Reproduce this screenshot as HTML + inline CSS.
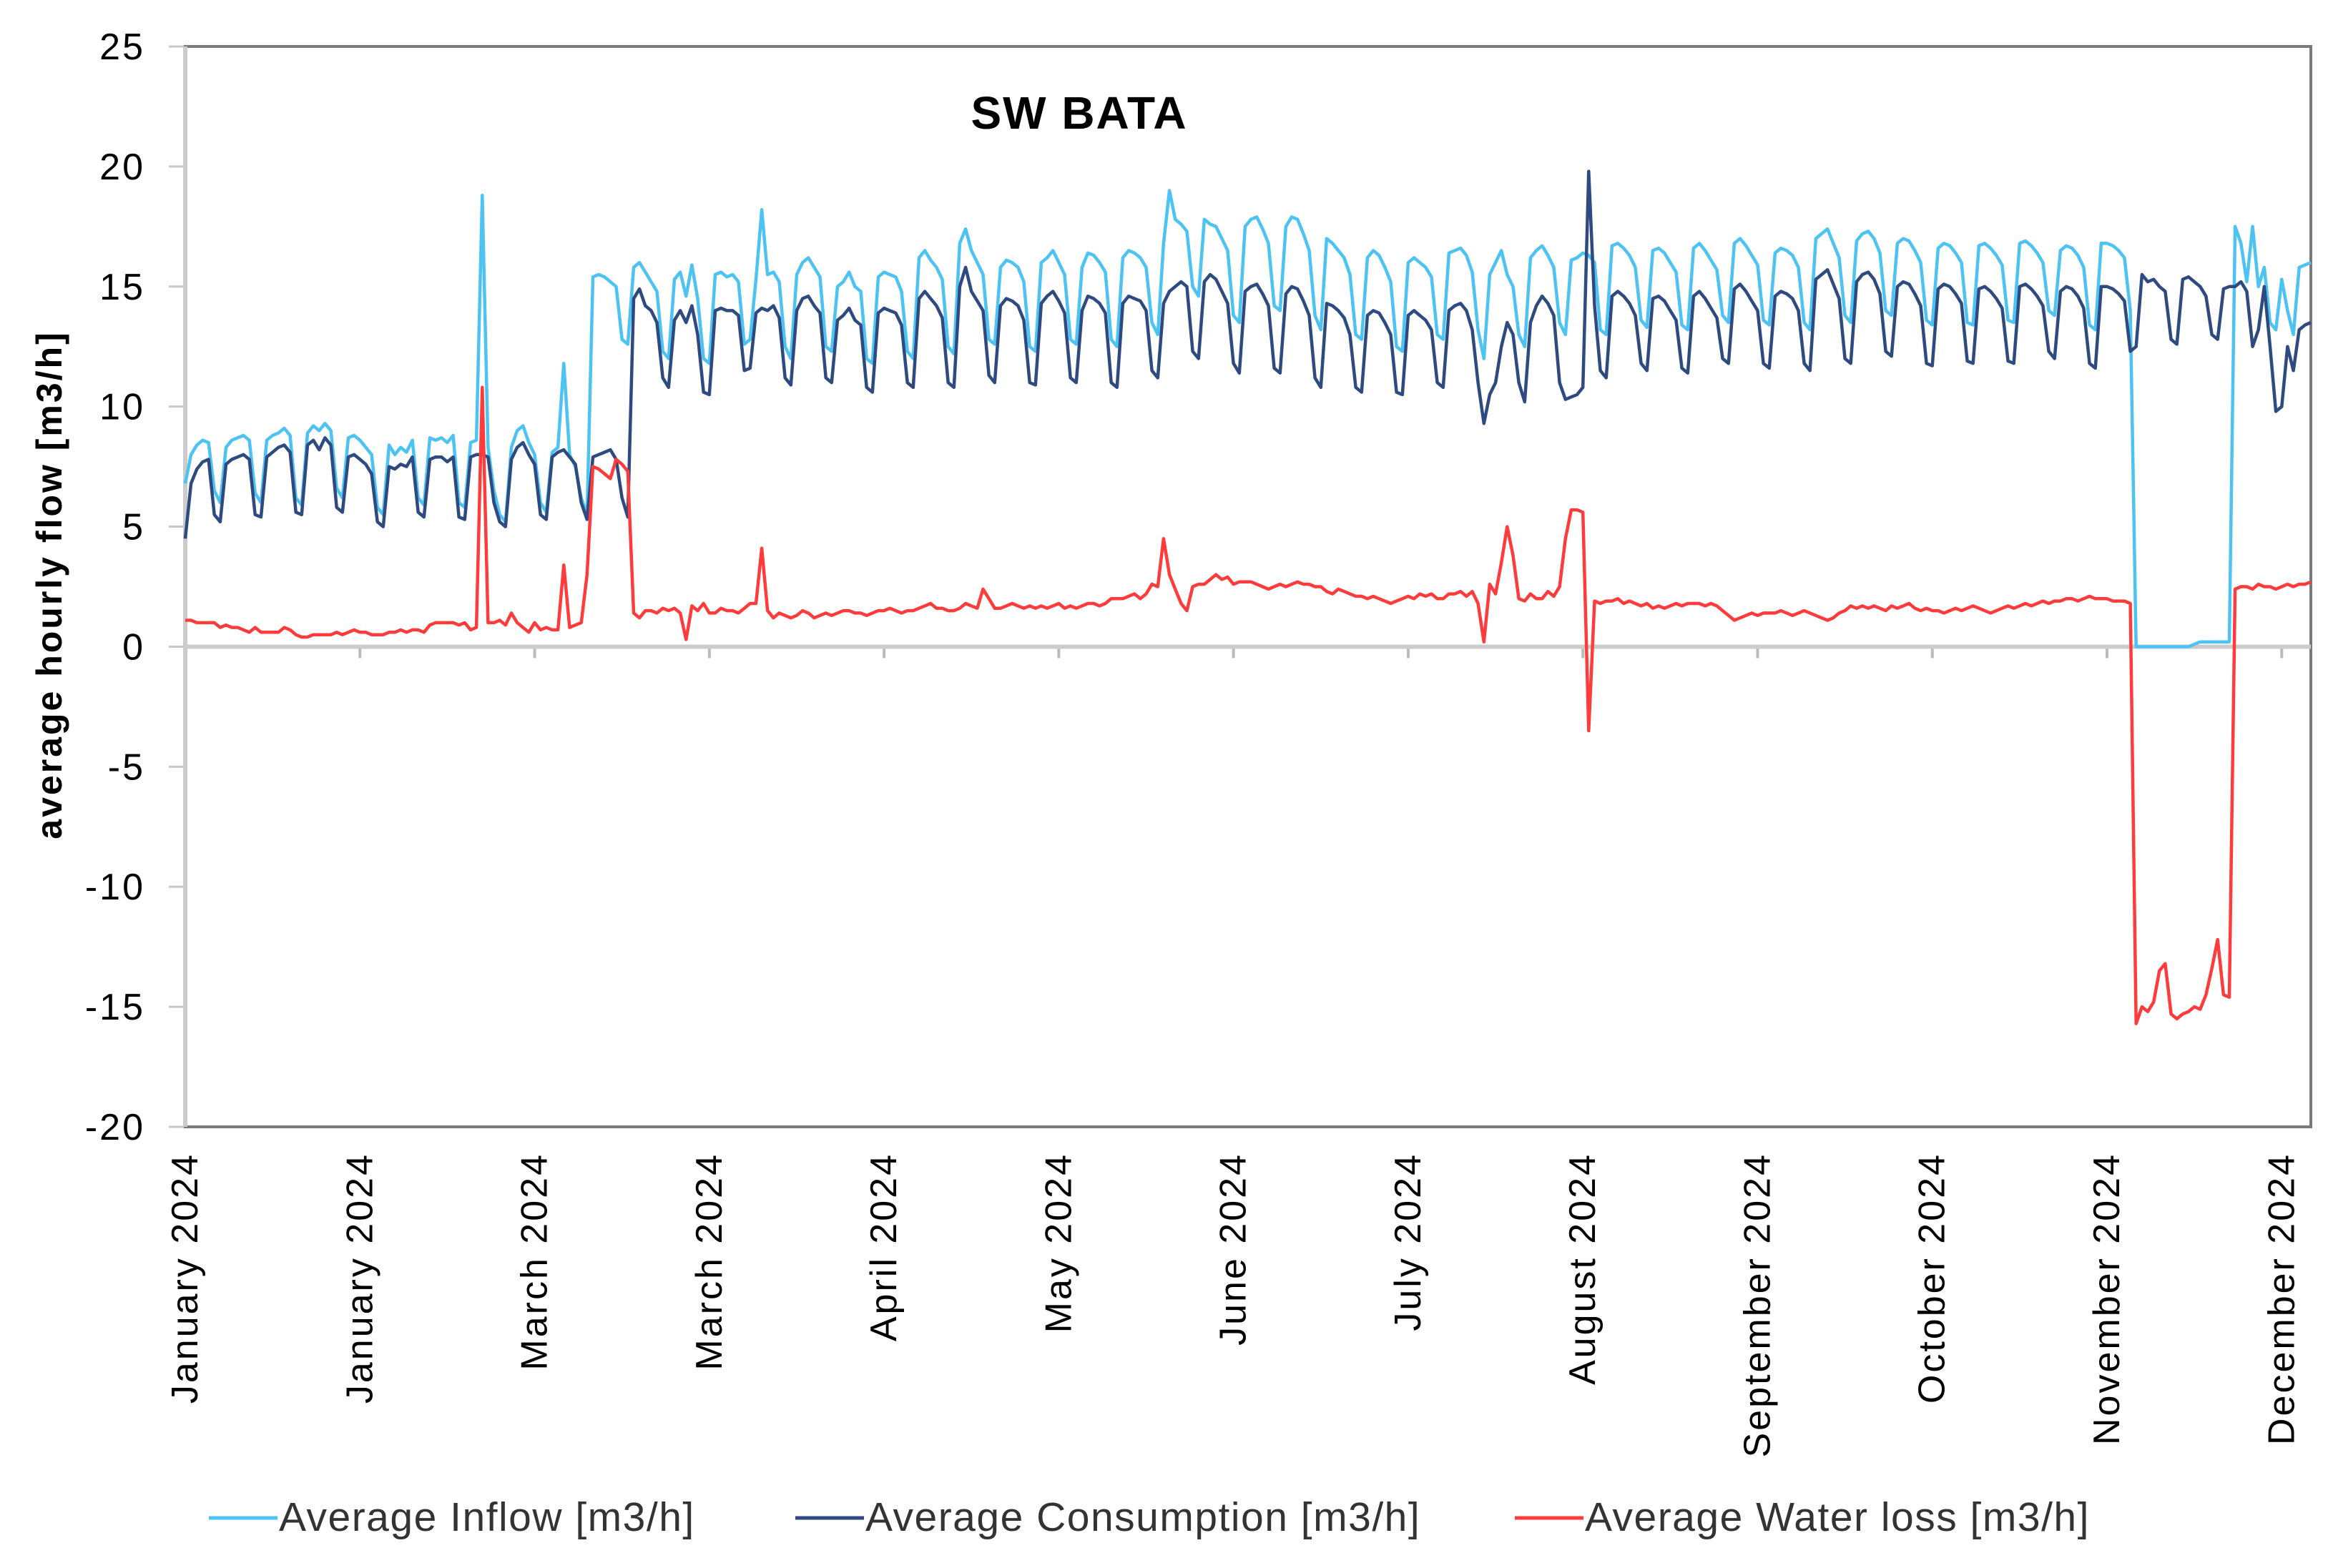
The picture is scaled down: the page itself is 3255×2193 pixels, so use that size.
<!DOCTYPE html>
<html><head><meta charset="utf-8"><style>
html,body{margin:0;padding:0;background:#fff;}
svg{display:block;font-family:"Liberation Sans",sans-serif;}
</style></head><body>
<svg id="chart" width="3255" height="2193" viewBox="0 0 3255 2193">
  <text x="1509" y="180" font-size="64" font-weight="bold" letter-spacing="2" text-anchor="middle" fill="#000">SW BATA</text>
  <text transform="translate(86,818) rotate(-90)" font-size="50" font-weight="bold" letter-spacing="3" text-anchor="middle" fill="#000">average hourly flow [m3/h]</text>
  <g id="yticks"></g>
  <g id="xticks"></g>
  <g id="series"></g>
  <g>
    <g>
      <line x1="292" y1="2123" x2="388" y2="2123" stroke="#4cc3f2" stroke-width="5"/>
      <text x="390" y="2141" font-size="57" letter-spacing="1.5" fill="#333">Average Inflow [m3/h]</text>
    </g>
    <g>
      <line x1="1112" y1="2123" x2="1208" y2="2123" stroke="#2e4a80" stroke-width="5"/>
      <text x="1210" y="2141" font-size="57" letter-spacing="1.5" fill="#333">Average Consumption [m3/h]</text>
    </g>
    <g>
      <line x1="2118" y1="2123" x2="2214" y2="2123" stroke="#ff3b3b" stroke-width="5"/>
      <text x="2216" y="2141" font-size="57" letter-spacing="1.5" fill="#333">Average Water loss [m3/h]</text>
    </g>
  </g>
</svg>
<script>
const yTicks = [25,20,15,10,5,0,-5,-10,-15,-20];
const xTickLabels = ["January 2024","January 2024","March 2024","March 2024","April 2024","May 2024","June 2024","July 2024","August 2024","September 2024","October 2024","November 2024","December 2024"];
const xTickDays = [0,30,60,90,120,150,180,210,240,270,300,330,360];
const inflow = [
6.8,8.0,8.4,8.6,8.5,6.5,6.0, 8.3,8.6,8.7,8.8,8.6,6.4,6.0, 8.6,8.8,8.9,9.1,8.8,6.2,5.9, 8.9,9.2,9.0,9.3,9.0,6.6,6.2,
8.7,8.8,8.6,8.3,8.0,5.8,5.5, 8.4,8.0,8.3,8.1,8.6,6.2,5.9, 8.7,8.6,8.7,8.5,8.8,6.0,5.8, 8.5,8.6,18.8,8.3,6.5,5.5,5.2,
8.3,9.0,9.2,8.5,8.0,6.0,5.6, 8.1,8.3,11.8,8.0,7.5,6.2,5.5, 15.4,15.5,15.4,15.2,15.0,12.8,12.6, 15.8,16.0,15.6,15.2,14.8,12.3,12.0,
15.3,15.6,14.6,15.9,14.5,12.0,11.8, 15.5,15.6,15.4,15.5,15.2,12.6,12.8, 15.3,18.2,15.5,15.6,15.2,12.5,12.0, 15.5,16.0,16.2,15.8,15.4,12.5,12.3,
15.0,15.2,15.6,15.0,14.8,12.0,11.8, 15.4,15.6,15.5,15.4,14.8,12.3,12.0, 16.2,16.5,16.1,15.8,15.3,12.5,12.2, 16.8,17.4,16.5,16.0,15.5,12.8,12.6,
15.8,16.1,16.0,15.8,15.2,12.5,12.3, 16.0,16.2,16.5,16.0,15.5,12.8,12.6, 15.8,16.4,16.3,16.0,15.6,12.8,12.5, 16.2,16.5,16.4,16.2,15.8,13.5,13.0,
16.8,19.0,17.8,17.6,17.3,15.0,14.6, 17.8,17.6,17.5,17.0,16.5,13.8,13.5, 17.5,17.8,17.9,17.4,16.8,14.2,14.0, 17.5,17.9,17.8,17.2,16.5,13.8,13.2,
17.0,16.8,16.5,16.2,15.5,13.0,12.8, 16.2,16.5,16.3,15.8,15.2,12.5,12.3, 16.0,16.2,16.0,15.8,15.4,13.0,12.8, 16.4,16.5,16.6,16.3,15.6,13.2,12.0,
15.5,16.0,16.5,15.5,15.0,13.0,12.5, 16.2,16.5,16.7,16.3,15.8,13.5,13.0, 16.1,16.2,16.4,16.3,16.0,13.2,13.0, 16.7,16.8,16.6,16.3,15.8,13.6,13.3,
16.5,16.6,16.4,16.0,15.6,13.4,13.2, 16.6,16.8,16.5,16.1,15.7,13.8,13.5, 16.8,17.0,16.7,16.3,15.9,13.6,13.4, 16.4,16.6,16.5,16.3,15.8,13.5,13.2,
17.0,17.2,17.4,16.8,16.2,13.8,13.5, 16.9,17.2,17.3,17.0,16.4,14.0,13.8, 16.8,17.0,16.9,16.5,16.0,13.6,13.4, 16.6,16.8,16.7,16.4,16.0,13.5,13.4,
16.7,16.8,16.6,16.3,15.9,13.6,13.5, 16.8,16.9,16.7,16.4,16.0,14.0,13.8, 16.5,16.7,16.6,16.3,15.8,13.4,13.2, 16.8,16.8,16.7,16.5,16.2,14.0,0,
0,0,0,0,0,0,0, 0,0,0.1,0.2,0.2,0.2,0.2, 0.2,0.2,17.5,16.8,15.2,17.5,15.0, 15.8,13.5,13.2,15.3,14.0,13.0,15.8, 15.9,16.0];
const consumption = [
4.5,6.8,7.4,7.7,7.8,5.5,5.2, 7.6,7.8,7.9,8.0,7.8,5.5,5.4, 7.9,8.1,8.3,8.4,8.1,5.6,5.5, 8.4,8.6,8.2,8.7,8.4,5.8,5.6,
7.9,8.0,7.8,7.6,7.2,5.2,5.0, 7.5,7.4,7.6,7.5,7.9,5.6,5.4, 7.8,7.9,7.9,7.7,7.9,5.4,5.3, 7.9,8.0,8.0,7.9,6.0,5.2,5.0,
7.8,8.3,8.5,8.0,7.6,5.5,5.3, 7.9,8.1,8.2,7.9,7.6,6.0,5.3, 7.9,8.0,8.1,8.2,7.8,6.2,5.4, 14.5,14.9,14.2,14.0,13.5,11.2,10.8,
13.6,14.0,13.5,14.2,13.0,10.6,10.5, 14.0,14.1,14.0,14.0,13.8,11.5,11.6, 13.9,14.1,14.0,14.2,13.7,11.2,10.9, 14.0,14.5,14.6,14.2,13.9,11.2,11.0,
13.6,13.8,14.1,13.6,13.4,10.8,10.6, 13.9,14.1,14.0,13.9,13.4,11.0,10.8, 14.5,14.8,14.5,14.2,13.7,11.0,10.8, 15.0,15.8,14.8,14.4,14.0,11.3,11.0,
14.2,14.5,14.4,14.2,13.6,11.0,10.9, 14.3,14.6,14.8,14.4,13.9,11.2,11.0, 14.0,14.6,14.5,14.3,13.9,11.0,10.8, 14.3,14.6,14.5,14.4,14.0,11.5,11.2,
14.3,14.8,15.0,15.2,15.0,12.3,12.0, 15.2,15.5,15.3,14.8,14.3,11.8,11.4, 14.8,15.0,15.1,14.7,14.2,11.6,11.4, 14.7,15.0,14.9,14.4,13.8,11.2,10.8,
14.3,14.2,14.0,13.7,13.0,10.8,10.6, 13.8,14.0,13.9,13.5,13.0,10.6,10.5, 13.8,14.0,13.8,13.6,13.2,11.0,10.8, 14.0,14.2,14.3,14.0,13.2,11.0,9.3,
10.5,11.0,12.5,13.5,13.0,11.0,10.2, 13.5,14.2,14.6,14.3,13.8,11.0,10.3, 10.4,10.5,10.8,19.8,14.2,11.5,11.2, 14.6,14.8,14.6,14.3,13.8,11.8,11.5,
14.5,14.6,14.4,14.0,13.6,11.6,11.4, 14.6,14.8,14.5,14.1,13.7,12.0,11.8, 14.9,15.1,14.8,14.4,14.0,11.8,11.6, 14.6,14.8,14.7,14.5,14.0,11.8,11.5,
15.3,15.5,15.7,15.1,14.5,12.0,11.8, 15.2,15.5,15.6,15.3,14.7,12.3,12.1, 15.0,15.2,15.1,14.7,14.2,11.8,11.7, 14.9,15.1,15.0,14.7,14.3,11.9,11.8,
14.9,15.0,14.8,14.5,14.1,11.9,11.8, 15.0,15.1,14.9,14.6,14.2,12.3,12.0, 14.8,15.0,14.9,14.6,14.1,11.8,11.6, 15.0,15.0,14.9,14.7,14.4,12.3,12.5,
15.5,15.2,15.3,15.0,14.8,12.8,12.6, 15.3,15.4,15.2,15.0,14.6,13.0,12.8, 14.9,15.0,15.0,15.2,14.8,12.5,13.2, 15.0,12.5,9.8,10.0,12.5,11.5,13.2, 13.4,13.5];
const waterLoss = [
1.1,1.1,1.0,1.0,1.0,1.0,0.8, 0.9,0.8,0.8,0.7,0.6,0.8,0.6, 0.6,0.6,0.6,0.8,0.7,0.5,0.4, 0.4,0.5,0.5,0.5,0.5,0.6,0.5,
0.6,0.7,0.6,0.6,0.5,0.5,0.5, 0.6,0.6,0.7,0.6,0.7,0.7,0.6, 0.9,1.0,1.0,1.0,1.0,0.9,1.0, 0.7,0.8,10.8,1.0,1.0,1.1,0.9,
1.4,1.0,0.8,0.6,1.0,0.7,0.8, 0.7,0.7,3.4,0.8,0.9,1.0,3.0, 7.5,7.4,7.2,7.0,7.8,7.6,7.3, 1.4,1.2,1.5,1.5,1.4,1.6,1.5,
1.6,1.4,0.3,1.7,1.5,1.8,1.4, 1.4,1.6,1.5,1.5,1.4,1.6,1.8, 1.8,4.1,1.5,1.2,1.4,1.3,1.2, 1.3,1.5,1.4,1.2,1.3,1.4,1.3,
1.4,1.5,1.5,1.4,1.4,1.3,1.4, 1.5,1.5,1.6,1.5,1.4,1.5,1.5, 1.6,1.7,1.8,1.6,1.6,1.5,1.5, 1.6,1.8,1.7,1.6,2.4,2.0,1.6,
1.6,1.7,1.8,1.7,1.6,1.7,1.6, 1.7,1.6,1.7,1.8,1.6,1.7,1.6, 1.7,1.8,1.8,1.7,1.8,2.0,2.0, 2.0,2.1,2.2,2.0,2.2,2.6,2.5,
4.5,3.0,2.4,1.8,1.5,2.5,2.6, 2.6,2.8,3.0,2.8,2.9,2.6,2.7, 2.7,2.7,2.6,2.5,2.4,2.5,2.6, 2.5,2.6,2.7,2.6,2.6,2.5,2.5,
2.3,2.2,2.4,2.3,2.2,2.1,2.1, 2.0,2.1,2.0,1.9,1.8,1.9,2.0, 2.1,2.0,2.2,2.1,2.2,2.0,2.0, 2.2,2.2,2.3,2.1,2.3,1.8,0.2,
2.6,2.2,3.5,5.0,3.8,2.0,1.9, 2.2,2.0,2.0,2.3,2.1,2.5,4.5, 5.7,5.7,5.6,-3.5,1.9,1.8,1.9, 1.9,2.0,1.8,1.9,1.8,1.7,1.8,
1.6,1.7,1.6,1.7,1.8,1.7,1.8, 1.8,1.8,1.7,1.8,1.7,1.5,1.3, 1.1,1.2,1.3,1.4,1.3,1.4,1.4, 1.4,1.5,1.4,1.3,1.4,1.5,1.4,
1.3,1.2,1.1,1.2,1.4,1.5,1.7, 1.6,1.7,1.6,1.7,1.6,1.5,1.7, 1.6,1.7,1.8,1.6,1.5,1.6,1.5, 1.5,1.4,1.5,1.6,1.5,1.6,1.7,
1.6,1.5,1.4,1.5,1.6,1.7,1.6, 1.7,1.8,1.7,1.8,1.9,1.8,1.9, 1.9,2.0,2.0,1.9,2.0,2.1,2.0, 2.0,2.0,1.9,1.9,1.9,1.8,-15.7,
-15.0,-15.2,-14.8,-13.5,-13.2,-15.3,-15.5, -15.3,-15.2,-15.0,-15.1,-14.5,-13.4,-12.2, -14.5,-14.6,2.4,2.5,2.5,2.4,2.6, 2.5,2.5,2.4,2.5,2.6,2.5,2.6, 2.6,2.7];

const L=259, R=3231, T=65, B=1576, yMax=25, yMin=-20, nDays=365;
const NS="http://www.w3.org/2000/svg";
function xScale(d){return L+(R-L)*d/nDays;}
function yScale(v){return T+(B-T)*(yMax-v)/(yMax-yMin);}
function mk(tag,attrs,parent){const e=document.createElementNS(NS,tag);for(const k in attrs)e.setAttribute(k,attrs[k]);parent.appendChild(e);return e;}

const yg=document.getElementById('yticks');
yTicks.forEach(v=>{
  const y=yScale(v);
  const t=mk('text',{x:203,y:y+18,'font-size':52,'letter-spacing':3,'text-anchor':'end',fill:'#000'},yg);
  t.textContent=v;
  
  
  const tk=mk('line',{x1:236,x2:L,y1:y,y2:y,stroke:'#c8c8c8','stroke-width':3},yg);
  
  
});
const sg=document.getElementById('series');
const fr=mk('rect',{x:L,y:T,width:R-L,height:B-T,fill:'none',stroke:'#7a7a7a','stroke-width':4},sg);


const ya=mk('line',{x1:L,x2:L,y1:T,y2:B,stroke:'#cccccc','stroke-width':6},sg);


const zl=mk('line',{x1:L,x2:R,y1:yScale(0),y2:yScale(0),stroke:'#cccccc','stroke-width':6},sg);



const xg=document.getElementById('xticks');
xTickDays.forEach((d,i)=>{
  const x=xScale(d);
  const tk=mk('line',{x1:x,x2:x,y1:yScale(0),y2:yScale(0)+16,stroke:'#bbbbbb','stroke-width':4},xg);
  
  
  const t=mk('text',{transform:`translate(${x+17},1612) rotate(-90)`,'font-size':52,'letter-spacing':3,'text-anchor':'end',fill:'#000'},xg);
  t.textContent=xTickLabels[i];
  
  
});

function drawSeries(arr,color,name){
  const pts=arr.map((v,i)=>xScale(i).toFixed(1)+','+yScale(v).toFixed(1)).join(' ');
  const p=mk('polyline',{points:pts,fill:'none',stroke:color,'stroke-width':4.5,'stroke-linejoin':'round'},sg);
  
  
}
drawSeries(inflow,'#4cc3f2','inflow-line');
drawSeries(consumption,'#2e4a80','consumption-line');
drawSeries(waterLoss,'#ff3b3b','water-loss-line');
</script>
</body></html>
